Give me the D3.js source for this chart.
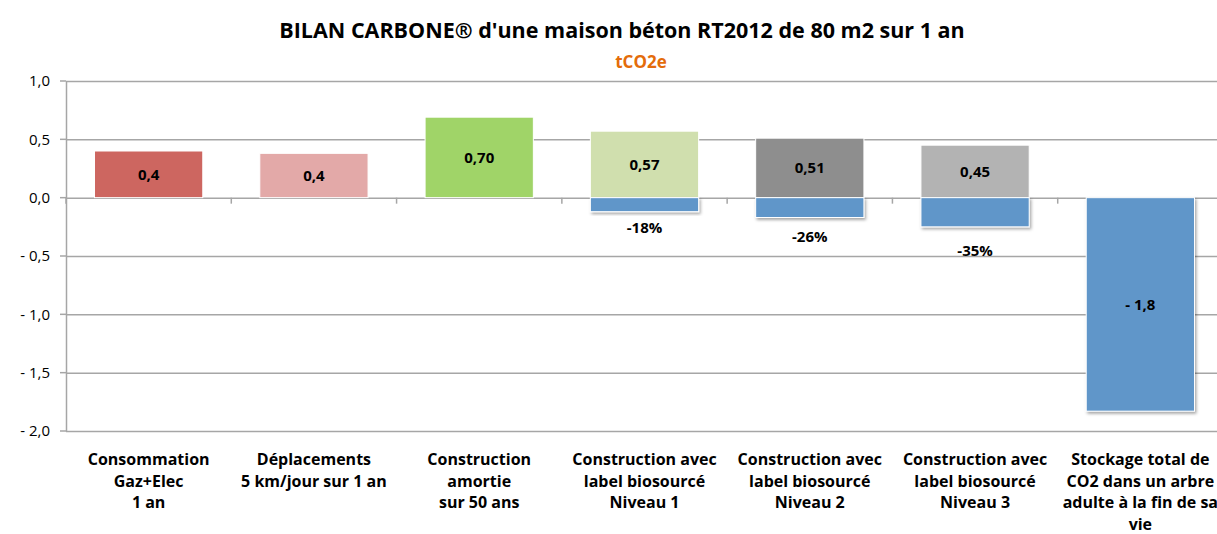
<!DOCTYPE html>
<html>
<head>
<meta charset="utf-8">
<script src="https://cdn.jsdelivr.net/npm/d3@7"></script>
<style>
  body { margin: 0; background: #fff; }
  svg text { font-family: "Open Sans", Lato, sans-serif; }
</style>
</head>
<body>
<div id="chart"></div>
<script>
// Categories (each line of the axis label)
const categories = [
    ["Consommation", "Gaz+Elec", "1 an"],
    ["Déplacements", "5 km/jour sur 1 an"],
    ["Construction", "amortie", "sur 50 ans"],
    ["Construction avec", "label biosourcé", "Niveau 1"],
    ["Construction avec", "label biosourcé", "Niveau 2"],
    ["Construction avec", "label biosourcé", "Niveau 3"],
    ["Stockage total de", "CO2 dans un arbre", "adulte à la fin de sa", "vie"]
];

// Emissions (tCO2e) and their labels
const emissions = [0.40, 0.38, 0.69, 0.57, 0.51, 0.45, null];
const emissionLabels = ["0,4", "0,4", "0,70", "0,57", "0,51", "0,45", null];

// Reductions / storage (tCO2e) and their labels
const savings = [null, null, null, -0.12, -0.17, -0.25, -1.83];
const savingLabels = [null, null, null, "-18%", "-26%", "-35%", "- 1,8"];

const yTicks = [1, 0.5, 0, -0.5, -1, -1.5, -2];

const barColors = ["#CD6660", "#E3A9A8", "#A0D468", "#D0DFAE", "#8E8E8E", "#B3B3B3", null];
const savingColor = "#6096C9";

const width = 1217, height = 534;
const margin = { top: 81, right: -6, bottom: 103, left: 66 };

const svg = d3.select("#chart").append("svg")
    .attr("width", width)
    .attr("height", height);

const defs = svg.append("defs");
const shadow = defs.append("filter")
    .attr("id", "shadow")
    .attr("x", "-10%").attr("y", "-10%")
    .attr("width", "130%").attr("height", "140%");
shadow.append("feDropShadow")
    .attr("dx", 1.5).attr("dy", 2)
    .attr("stdDeviation", 1.5)
    .attr("flood-color", "#000")
    .attr("flood-opacity", 0.35);

const catIdx = d3.range(categories.length);

const x = d3.scaleBand()
    .domain(catIdx)
    .range([margin.left, width - margin.right])
    .paddingInner(0.345)
    .paddingOuter(0.1725);

const y = d3.scaleLinear()
    .domain([-2, 1])
    .range([height - margin.bottom, margin.top]);

const fmt = d => (d < 0 ? "- " : "") + Math.abs(d).toFixed(1).replace(".", ",");

// Gridlines + y axis
svg.append("g")
    .attr("transform", "translate(" + margin.left + ",0)")
    .call(d3.axisLeft(y).tickValues(yTicks).tickFormat(fmt)
        .tickSize(-(width - margin.left - margin.right)).tickSizeOuter(0).tickPadding(16))
    .call(g => g.select(".domain").attr("stroke", "#A6A6A6").attr("stroke-width", 1.5))
    .call(g => g.selectAll(".tick line").attr("stroke", "#A6A6A6").attr("stroke-width", 1.5))
    .call(g => g.selectAll(".tick text")
        .style("font-size", "15px").attr("fill", "#000"));

// small outside ticks on y axis
svg.append("g")
    .selectAll("line")
    .data(yTicks)
    .enter().append("line")
    .attr("x1", margin.left - 6)
    .attr("x2", margin.left)
    .attr("y1", d => y(d))
    .attr("y2", d => y(d))
    .attr("stroke", "#A6A6A6")
    .attr("stroke-width", 1.5);

// category tick marks on zero line
const step = x.step();
svg.append("g")
    .selectAll("line")
    .data(d3.range(categories.length + 1))
    .enter().append("line")
    .attr("x1", d => margin.left + d * step)
    .attr("x2", d => margin.left + d * step)
    .attr("y1", y(0))
    .attr("y2", y(0) + 6)
    .attr("stroke", "#A6A6A6")
    .attr("stroke-width", 1.5);

// Emission bars
const pos = catIdx.filter(i => emissions[i] != null);
svg.append("g")
    .selectAll("rect")
    .data(pos)
    .enter().append("rect")
    .attr("x", i => x(i))
    .attr("y", i => y(emissions[i]))
    .attr("width", x.bandwidth())
    .attr("height", i => y(0) - y(emissions[i]))
    .attr("fill", i => barColors[i])
    .attr("stroke", "#fff")
    .attr("stroke-width", 1);

// Saving bars
const neg = catIdx.filter(i => savings[i] != null);
svg.append("g")
    .selectAll("rect")
    .data(neg)
    .enter().append("rect")
    .attr("x", i => x(i))
    .attr("y", y(0))
    .attr("width", x.bandwidth())
    .attr("height", i => y(savings[i]) - y(0))
    .attr("fill", savingColor)
    .attr("stroke", "#fff")
    .attr("stroke-width", 1)
    .attr("filter", "url(#shadow)");

// Emission labels
svg.append("g")
    .selectAll("text")
    .data(pos)
    .enter().append("text")
    .attr("x", i => x(i) + x.bandwidth() / 2)
    .attr("y", i => (y(emissions[i]) + y(0)) / 2)
    .attr("dy", "0.35em")
    .attr("text-anchor", "middle")
    .style("font-size", "15px")
    .style("font-weight", "bold")
    .text(i => emissionLabels[i]);

// Saving labels (below the short bars, inside the tall one)
svg.append("g")
    .selectAll("text")
    .data(neg)
    .enter().append("text")
    .attr("x", i => x(i) + x.bandwidth() / 2)
    .attr("y", i => savings[i] < -1
        ? (y(savings[i]) + y(0)) / 2
        : y(savings[i]) + 9 + (y(savings[i]) - y(0)) / 2)
    .attr("dy", "0.35em")
    .attr("text-anchor", "middle")
    .style("font-size", "15px")
    .style("font-weight", "bold")
    .text(i => savingLabels[i]);

// Category labels
const catG = svg.append("g")
    .selectAll("text")
    .data(catIdx)
    .enter().append("text")
    .attr("x", i => x(i) + x.bandwidth() / 2)
    .attr("y", y(-2) + 34)
    .attr("text-anchor", "middle")
    .style("font-size", "16px")
    .style("font-weight", "bold");
catG.selectAll("tspan")
    .data(i => categories[i].map(t => ({ t: t, cx: x(i) + x.bandwidth() / 2 })))
    .enter().append("tspan")
    .attr("x", d => d.cx)
    .attr("dy", (d, k) => k === 0 ? 0 : 21.5)
    .text(d => d.t);

// Title
svg.append("text")
    .attr("x", 622)
    .attr("y", 38)
    .attr("text-anchor", "middle")
    .style("font-size", "21.5px")
    .style("font-weight", "bold")
    .text("BILAN CARBONE® d'une maison béton RT2012 de 80 m2 sur 1 an");

svg.append("text")
    .attr("x", 641)
    .attr("y", 68)
    .attr("text-anchor", "middle")
    .style("font-size", "17px")
    .style("font-weight", "bold")
    .attr("fill", "#E46C0A")
    .text("tCO2e");
</script>
</body>
</html>
